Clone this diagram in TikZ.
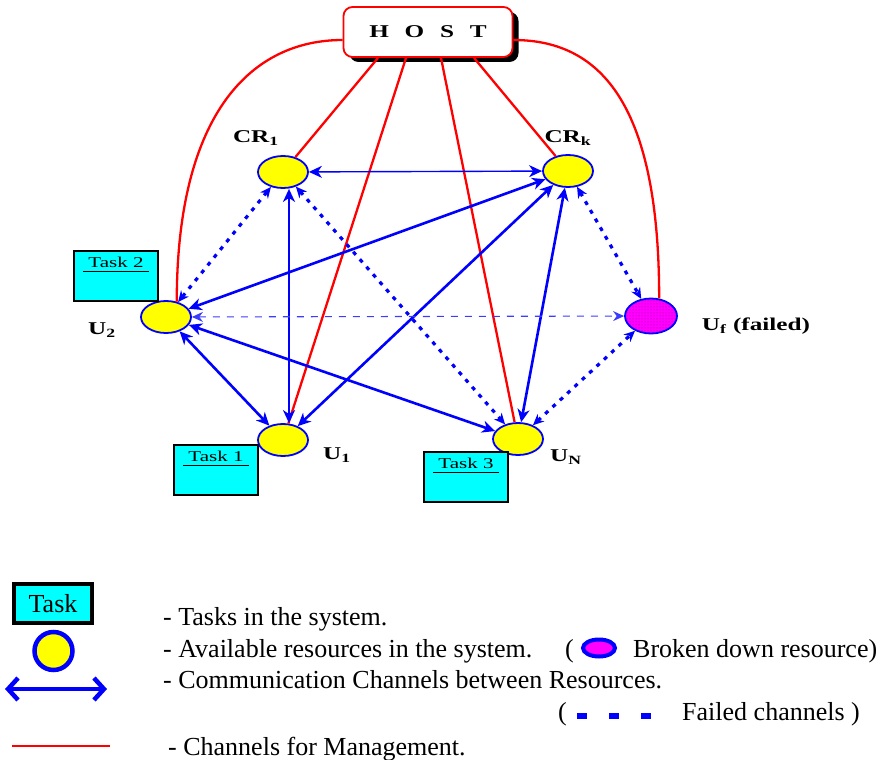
\documentclass[tikz,border=0pt]{standalone}
\usepackage{fontspec}
\usepackage{graphicx}
\setmainfont{Liberation Serif}
\newfontfamily\hostfont[WordSpace=2.5]{Liberation Serif}
\newcommand{\wide}[1]{\scalebox{1.4}[1]{#1}}
\usepackage{tikz}
\usetikzlibrary{arrows.meta,shapes.geometric,shadows,patterns}
\definecolor{resyellow}{HTML}{FFFF00}
\definecolor{chanblue}{HTML}{0000FF}
\definecolor{faintblue}{HTML}{3C3CFF}
\definecolor{mgmtred}{HTML}{FF0000}
\definecolor{taskcyan}{HTML}{00FFFF}
\definecolor{failmagenta}{HTML}{FF00FF}
\tikzset{
  hostBox/.style={draw=mgmtred, line width=1.8pt, fill=white, rounded corners=9pt,
    minimum width=169pt, minimum height=50pt,
    drop shadow={shadow xshift=6pt, shadow yshift=-5pt, fill=black, opacity=1},
    font=\hostfont\bfseries\fontsize{18}{20}\selectfont},
  resource/.style={ellipse, draw=chanblue, line width=1.8pt, fill=resyellow,
    minimum width=50pt, minimum height=32pt, inner sep=0pt},
  failedRes/.style={ellipse, draw=chanblue, line width=1.8pt, minimum width=52pt,
    minimum height=35pt, inner sep=0pt, preaction={fill=failmagenta},
    pattern=dots, pattern color=failmagenta!55!black},
  resLabel/.style={font=\bfseries\fontsize{18}{20}\selectfont, inner sep=0pt},
  taskBox/.style={draw=black, line width=2.6pt, fill=taskcyan, minimum width=84pt, minimum height=50pt},
  taskLabel/.style={font=\fontsize{15}{17}\selectfont, anchor=base,
    inner xsep=5pt, inner ysep=1pt, text depth=2pt},
  taskRule/.style={line width=0.8pt},
  mgmt/.style={draw=mgmtred, line width=2.3pt},
  chan/.style={draw=chanblue, line width=2.6pt,
    {Stealth[length=13pt,width=12pt,inset=4pt]}-{Stealth[length=13pt,width=12pt,inset=4pt]}},
  chanThin/.style={chan, line width=1.4pt},
  failChan/.style={draw=chanblue, line width=3.2pt, dash pattern=on 4pt off 6pt,
    {Stealth[length=11pt,width=10pt]}-{Stealth[length=11pt,width=10pt]}},
  failLink/.style={draw=faintblue, line width=1.1pt, dash pattern=on 7pt off 7pt,
    {Stealth[length=11pt,width=10pt]}-{Stealth[length=11pt,width=10pt]}},
  legendText/.style={font=\fontsize{26}{30}\selectfont, anchor=base west, inner sep=0pt},
  legChan/.style={draw=chanblue, line width=4.5pt,
    {Straight Barb[length=10pt,width=22pt]}-{Straight Barb[length=10pt,width=22pt]}},
  legFail/.style={draw=chanblue, line width=6pt, dash pattern=on 10pt off 22pt},
  brokenMark/.style={ellipse, draw=chanblue, line width=4pt, fill=failmagenta,
    minimum width=32pt, minimum height=17pt, inner sep=0pt}
}

\begin{document}
\begin{tikzpicture}[x=1pt, y=-1pt]
  \useasboundingbox (0,0) rectangle (884,760);

  % host and resources
  \node[hostBox] (host) at (428,32) {\wide{H O S T}};
  \node[resource] (cr1) at (283,172) {};
  \node[resource] (crk) at (568,171) {};
  \node[resource] (u2) at (166,317) {};
  \node[failedRes] (uf) at (651,316) {};
  \node[resource] (u1) at (283,440) {};
  \node[resource] (un) at (518,439) {};

  \node[resLabel] (cr1name) at (256,138) {\wide{CR\textsubscript{1}}};
  \node[resLabel] (crkname) at (568,138) {\wide{CR\textsubscript{k}}};
  \node[resLabel] (u2name) at (102,330) {\wide{U\textsubscript{2}}};
  \node[resLabel] (u1name) at (337,455) {\wide{U\textsubscript{1}}};
  \node[resLabel] (unname) at (566,457) {\wide{U\textsubscript{N}}};
  \node[resLabel] (ufname) at (756,326) {\wide{U\textsubscript{f} (failed)}};

  % tasks
  \node[taskBox] (task2) at (116,276) {};
  \node[taskLabel] (task2name) at ([yshift=-18pt]task2.north) {\wide{Task 2}};
  \draw[taskRule] (task2name.south west) -- (task2name.south east);
  \node[taskBox] (task1) at (216,470) {};
  \node[taskLabel] (task1name) at ([yshift=-18pt]task1.north) {\wide{Task 1}};
  \draw[taskRule] (task1name.south west) -- (task1name.south east);
  \node[taskBox] (task3) at (466,477) {};
  \node[taskLabel] (task3name) at ([yshift=-18pt]task3.north) {\wide{Task 3}};
  \draw[taskRule] (task3name.south west) -- (task3name.south east);

  % management channels
  \draw[mgmt] ([xshift=-50pt]host.south) -- (cr1);
  \draw[mgmt] ([xshift=-22pt]host.south) -- (u1);
  \draw[mgmt] ([xshift=13pt]host.south) -- (un);
  \draw[mgmt] ([xshift=46pt]host.south) -- (crk);
  \draw[mgmt] ([yshift=-8pt]host.west) .. controls +(-90,0) and +(0,-190) .. (u2.55);
  \draw[mgmt] ([yshift=-8pt]host.east) .. controls +(90,0) and +(0,-190) .. (uf.65);

  % communication channels
  \draw[chanThin] (cr1) -- (crk);
  \draw[chan] ([xshift=6pt]cr1.south) -- ([xshift=6pt]u1.north);
  \draw[chan] (u2) -- (crk);
  \draw[chan] (u2) -- (u1);
  \draw[chan] (u2) -- (un);
  \draw[chan] (crk) -- (u1);
  \draw[chan] (crk) -- (un);

  % failed channels
  \draw[failChan] (cr1) -- (u2);
  \draw[failChan] (cr1) -- (un);
  \draw[failChan] (crk) -- (uf);
  \draw[failChan] (un) -- (uf);
  \draw[failLink] (u2) -- (uf);

  % legend
  \node[taskBox, line width=4.5pt, minimum width=78pt, minimum height=39pt,
    font=\fontsize{26}{30}\selectfont] (legTask) at (53,603.5) {Task};
  \node[resource, circle, line width=4.5pt, minimum size=38pt] (legRes) at (53.5,651) {};
  \coordinate (legArrowL) at (5,689);
  \coordinate (legArrowR) at (107,689);
  \draw[legChan] (legArrowL) -- (legArrowR);
  \coordinate (legMgmtL) at (12,746);
  \coordinate (legMgmtR) at (110,746);
  \draw[mgmt, line width=2pt] (legMgmtL) -- (legMgmtR);

  \node[legendText] (legTaskTxt) at (163,625) {- Tasks in the system.};
  \node[legendText] (legResTxt) at (163,657) {- Available resources in the system.};
  \node[legendText] (legBrokenOpen) at (565,657) {(};
  \node[brokenMark] (legBroken) at (599,648) {};
  \node[legendText] (legBrokenTxt) at (633,657) {Broken down resource)};
  \node[legendText] (legChanTxt) at (163,688) {- Communication Channels between Resources.};
  \node[legendText] (legFailOpen) at (558,720) {(};
  \coordinate (legFailL) at (577,716);
  \coordinate (legFailR) at (652,716);
  \draw[legFail] (legFailL) -- (legFailR);
  \node[legendText] (legFailTxt) at (682,720) {Failed channels )};
  \node[legendText] (legMgmtTxt) at (168,755) {- Channels for Management.};
\end{tikzpicture}
\end{document}
